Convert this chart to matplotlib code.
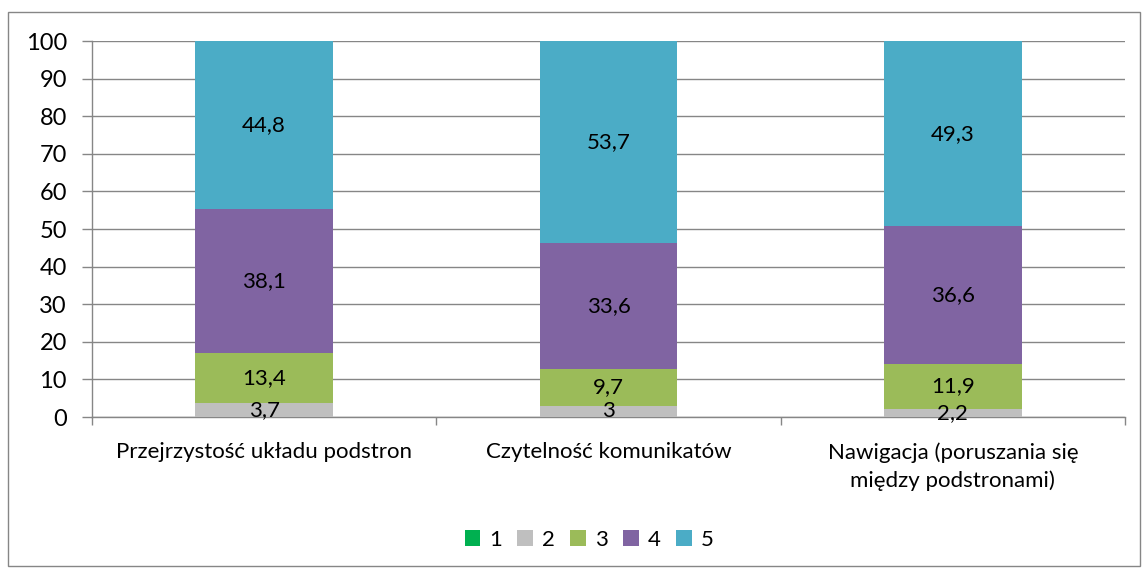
import numpy as np
import matplotlib
matplotlib.use("Agg")
import matplotlib.pyplot as plt
from matplotlib.patches import Rectangle

categories = ["Przejrzystość układu podstron", "Czytelność komunikatów",
              "Nawigacja (poruszania się\nmiędzy podstronami)"]
series_names = ["1", "2", "3", "4", "5"]
s1 = [0.0, 0.0, 0.0]
s2 = [3.7, 3.0, 2.2]
s3 = [13.4, 9.7, 11.9]
s4 = [38.1, 33.6, 36.6]
s5 = [44.8, 53.7, 49.3]
yticks = [0, 10, 20, 30, 40, 50, 60, 70, 80, 90, 100]

colors = ["#00B050", "#BFBFBF", "#9BBB59", "#8064A2", "#4BACC6"]
grid_col = "#868686"
fs = 16

plt.rcParams["font.family"] = ["Lato", "DejaVu Sans"]

fig = plt.figure(figsize=(11.48, 5.73), dpi=100)
ax = fig.add_axes([92 / 1148, 1 - 417 / 573, (1125 - 92) / 1148, (417 - 41) / 573])

# outer chart border
fig.patches.append(Rectangle((8 / 1148, 1 - 566 / 573), (1140 - 8) / 1148, (566 - 12) / 573,
                             transform=fig.transFigure, fill=False,
                             edgecolor=grid_col, linewidth=1.0))

x = np.arange(len(categories))
bottom = np.zeros(len(categories))
for name, vals, col in zip(series_names, [s1, s2, s3, s4, s5], colors):
    vals = np.array(vals)
    ax.bar(x, vals, width=0.4, bottom=bottom, color=col, label=name, zorder=3)
    for xi, b, v in zip(x, bottom, vals):
        if v > 0:
            txt = f"{v:g}".replace(".", ",")
            ax.text(xi, b + v / 2, txt, ha="center", va="center", fontsize=fs,
                    color="black", zorder=4)
    bottom += vals

ax.set_xlim(-0.5, len(categories) - 0.5)
ax.set_ylim(0, 100)
ax.set_yticks(yticks)
ax.set_yticklabels([str(t) for t in yticks], fontsize=fs + 1)
ax.yaxis.grid(True, color=grid_col, linewidth=1.0, zorder=0)
ax.set_axisbelow(True)

ax.set_xticks(x)
ax.set_xticklabels(categories, fontsize=fs, linespacing=1.5)
ax.tick_params(axis="x", length=0, pad=18)
ax.set_xticks(np.arange(len(categories) + 1) - 0.5, minor=True)
ax.tick_params(axis="x", which="minor", length=6, color=grid_col, width=1.0)
ax.tick_params(axis="y", length=7, color=grid_col, width=1.0, pad=11)

for side in ["top", "right"]:
    ax.spines[side].set_visible(False)
for side in ["left", "bottom"]:
    ax.spines[side].set_color(grid_col)
    ax.spines[side].set_linewidth(1.0)

leg = fig.legend(loc="center", bbox_to_anchor=(589 / 1148, 1 - 540 / 573), ncol=5,
                 frameon=False, fontsize=fs, handlelength=0.7, handleheight=0.7,
                 handletextpad=0.4, columnspacing=0.7)

fig.savefig("out.png", dpi=100)
